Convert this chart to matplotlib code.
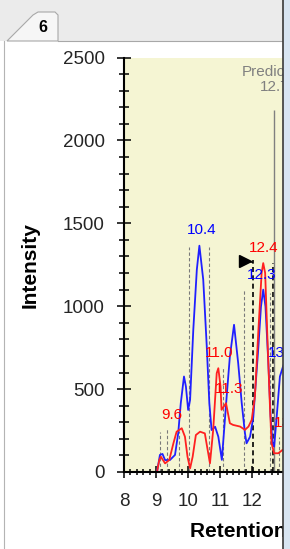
import matplotlib
matplotlib.use("Agg")
import matplotlib.pyplot as plt
from matplotlib.patches import Rectangle, Polygon
from matplotlib.lines import Line2D
from matplotlib.ticker import MultipleLocator

W, H = 290, 549

# chromatogram traces (retention time in min, intensity)
blue_t = [9.04, 9.12, 9.20, 9.28, 9.43, 9.59, 9.69, 9.77, 9.87, 9.93, 10.00, 10.06,
          10.16, 10.27, 10.35, 10.47, 10.58, 10.66, 10.73, 10.84, 10.94, 11.05,
          11.20, 11.30, 11.43, 11.56, 11.67, 11.77, 11.82, 11.93, 12.03, 12.19,
          12.27, 12.34, 12.41, 12.50, 12.57, 12.63, 12.68, 12.76, 12.86, 12.94, 13.00]
blue_v = [12, 103, 109, 72, 72, 103, 234, 415, 576, 515, 374, 435,
          858, 1220, 1365, 1160, 757, 415, 253, 273, 213, 73,
          455, 696, 888, 656, 415, 235, 173, 213, 330, 757,
          998, 1100, 998, 656, 334, 173, 153, 334, 576, 626, 660]

red_t = [9.04, 9.10, 9.15, 9.28, 9.41, 9.54, 9.64, 9.80, 9.90, 9.98, 10.06, 10.14,
         10.24, 10.37, 10.52, 10.59, 10.68, 10.78, 10.89, 10.94, 11.01, 11.04,
         11.18, 11.30, 11.40, 11.62, 11.77, 11.88, 11.98, 12.08, 12.19, 12.29,
         12.34, 12.40, 12.48, 12.55, 12.60, 12.68, 12.81, 12.94, 13.00]
red_v = [12, 72, 92, 52, 72, 173, 243, 264, 213, 92, 22, 92,
         223, 243, 233, 153, 52, 253, 596, 626, 515, 375,
         415, 294, 284, 274, 254, 274, 314, 455, 858, 1200,
         1260, 1200, 757, 394, 173, 113, 113, 133, 135]

# peak markers
gray_t = [9.12, 9.34, 9.71, 10.03, 10.66, 11.10, 11.75, 12.55, 12.83]
gray_top = [243, 260, 250, 1360, 1360, 636, 1100, 1080, 213]
black_t = [12.03, 12.65]
black_top = [1280, 1260]
pred_t, pred_top = 12.68, 2185
flag_t, flag_v = 11.76, 1275

labels = ["9.6", "10.4", "11.0", "11.3", "12.4", "12.3", "13.0", "13.1"]
label_t = [9.48, 10.42, 10.97, 11.27, 12.34, 12.29, 12.95, 13.14]
label_v = [344, 1461, 718, 500, 1351, 1190, 718, 296]
label_c = ["red", "blue", "red", "red", "red", "blue", "blue", "red"]


def px(x, y):
    return x / W, 1 - y / H


fig = plt.figure(figsize=(W / 100, H / 100), dpi=100)
fig.patch.set_facecolor("white")

# window chrome: tab strip, tab, borders
fig.patches.append(Rectangle(px(0, 41), 1, 41 / H, transform=fig.transFigure,
                             facecolor="#ebebeb", edgecolor="none", zorder=-5))
tab = [px(7, 41), px(33, 15), px(38, 12), px(55, 12), px(58, 15), px(58, 41)]
fig.patches.append(Polygon(tab, closed=True, transform=fig.transFigure,
                           facecolor="#f6f6f6", edgecolor="#a8a8a8", lw=0.8, zorder=-4))
fig.lines.append(Line2D([58 / W, 283 / W], [1 - 41 / H] * 2, transform=fig.transFigure,
                        color="#a8a8a8", lw=0.8))
fig.lines.append(Line2D([4 / W, 4 / W], [0, 1 - 41 / H], transform=fig.transFigure,
                        color="#b4b4b4", lw=0.8))
fig.text(*px(43, 28), "6", fontsize=11.5, fontweight="bold", family="Liberation Sans",
         ha="center", va="center")

ax = fig.add_axes([124 / W, 1 - 472 / H, (283 - 124) / W, (472 - 57.5) / H])
ax.set_facecolor("#f5f5d3")

ax.vlines(gray_t, 0, gray_top, colors="#7a7a7a", linestyles=(0, (3, 2)), lw=0.8)
ax.vlines(black_t, 0, black_top, colors="black", linestyles=(0, (3, 2)), lw=1.2)
ax.vlines([pred_t], 0, [pred_top], colors="#808080", lw=1.0)

ax.plot(blue_t, blue_v, color="#2020ff", lw=1.3, solid_joinstyle="round")
ax.plot(red_t, red_v, color="#ff2020", lw=1.3, solid_joinstyle="round")
ax.plot([flag_t, flag_t + 0.24], [flag_v, flag_v - 10], color="black", lw=1.0)
ax.plot([flag_t], [flag_v], marker=">", color="black", ms=9)

for s, t, v, c in zip(labels, label_t, label_v, label_c):
    ax.text(t, v, s, color=c, fontsize=11, family="Liberation Sans",
            ha="center", va="center", clip_on=True)
ax.text(pred_t, 2280, "Predicted\n12.7", color="#808080", fontsize=11,
        family="Liberation Sans", ha="center", va="bottom", linespacing=1.05,
        clip_on=True)

ax.set_xlim(8, 8 + (283 - 124) / 32.08)
ax.set_ylim(0, 2500)
ax.xaxis.set_major_locator(MultipleLocator(1))
ax.xaxis.set_minor_locator(MultipleLocator(0.2))
ax.yaxis.set_major_locator(MultipleLocator(500))
ax.yaxis.set_minor_locator(MultipleLocator(100))

for side in ["top", "right"]:
    ax.spines[side].set_visible(False)
for side in ["left", "bottom"]:
    ax.spines[side].set_linewidth(1.5)

ax.tick_params(axis="y", which="major", direction="inout", length=10, width=1.1, pad=9)
ax.tick_params(axis="y", which="minor", direction="inout", length=7, width=1.1)
ax.tick_params(axis="x", which="major", direction="inout", length=8, width=1.1, pad=11)
ax.tick_params(axis="x", which="minor", direction="inout", length=5, width=1.1)
for lab in ax.get_xticklabels() + ax.get_yticklabels():
    lab.set_fontfamily("Liberation Sans")
    lab.set_fontsize(13.5)
    lab.set_color("#252525")

ax.set_ylabel("Intensity", fontsize=15, fontweight="bold", family="Liberation Sans")
ax.yaxis.set_label_coords(-0.53, 0.5)
ax.set_xlabel("Retention Time (min)", fontsize=15, fontweight="bold",
              family="Liberation Sans", ha="left")
ax.xaxis.set_label_coords((190 - 124) / 159, -0.12)

# right window edge covers whatever runs past the plot
fig.patches.append(Rectangle(px(283, 549), 7 / W, 1, transform=fig.transFigure,
                             facecolor="#d8e5f2", edgecolor="none", zorder=10))
fig.lines.append(Line2D([283 / W] * 2, [0, 1], transform=fig.transFigure,
                        color="#3a3a3a", lw=1.2, zorder=11))

fig.savefig("out.png", dpi=100)
